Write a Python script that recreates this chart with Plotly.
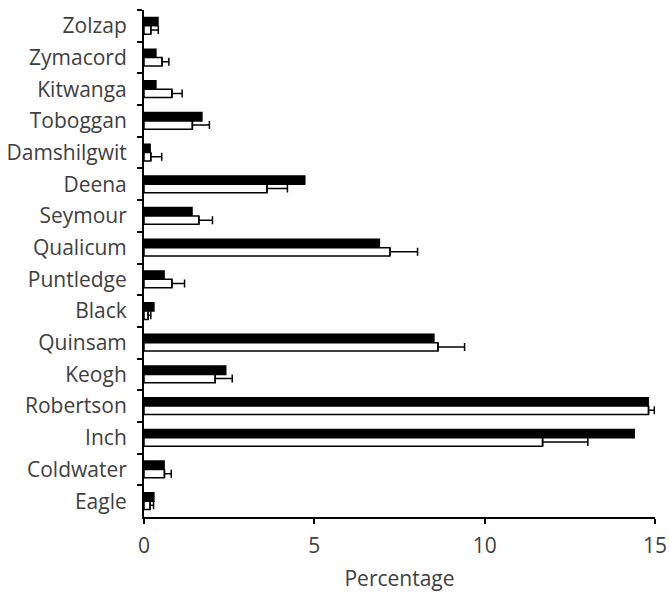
import plotly.graph_objects as go

categories = ["Zolzap", "Zymacord", "Kitwanga", "Toboggan", "Damshilgwit", "Deena",
              "Seymour", "Qualicum", "Puntledge", "Black", "Quinsam", "Keogh",
              "Robertson", "Inch", "Coldwater", "Eagle"]
black_vals = [0.41, 0.35, 0.35, 1.70, 0.18, 4.72, 1.41, 6.91, 0.59, 0.29, 8.51, 2.40,
              14.80, 14.39, 0.59, 0.29]
white_vals = [0.20, 0.53, 0.82, 1.42, 0.20, 3.61, 1.61, 7.22, 0.82, 0.12, 8.63, 2.09,
              14.81, 11.70, 0.60, 0.18]
white_err = [0.22, 0.20, 0.30, 0.50, 0.32, 0.60, 0.40, 0.81, 0.37, 0.08, 0.78, 0.50,
             0.17, 1.33, 0.20, 0.10]
x_ticks = [0, 5, 10, 15]

font_family = "'Open Sans', sans-serif"

fig = go.Figure()
fig.add_trace(go.Bar(
    y=categories, x=black_vals, orientation="h",
    marker=dict(color="black", line=dict(color="black", width=1.5)),
    showlegend=False,
))
fig.add_trace(go.Bar(
    y=categories, x=white_vals, orientation="h",
    marker=dict(color="white", line=dict(color="black", width=1.5)),
    error_x=dict(type="data", array=white_err, symmetric=False,
                 arrayminus=[0] * len(white_err),
                 color="black", thickness=1.5, width=4),
    showlegend=False,
))

fig.update_layout(
    width=670, height=592,
    margin=dict(l=144, r=15, t=10, b=75),
    plot_bgcolor="white", paper_bgcolor="white",
    barmode="group", bargap=0.47, bargroupgap=0,
    font=dict(family=font_family, size=21, color="#404040"),
    xaxis=dict(
        range=[0, 15], tickvals=x_ticks, ticktext=[str(v) for v in x_ticks],
        showline=True, linecolor="black", linewidth=2,
        ticks="outside", ticklen=5, tickwidth=2, tickcolor="black",
        ticklabelstandoff=4, automargin=False,
        showgrid=False, zeroline=False,
        title=dict(text="Percentage", font=dict(size=21), standoff=13),
    ),
    yaxis=dict(
        categoryorder="array", categoryarray=categories, autorange="reversed",
        showline=True, linecolor="black", linewidth=2,
        ticks="outside", ticklen=5, tickwidth=2, tickcolor="black",
        ticklabelstandoff=11, automargin=False,
        tickson="boundaries", showgrid=False, zeroline=False,
    ),
)

fig.write_html("out.html")
